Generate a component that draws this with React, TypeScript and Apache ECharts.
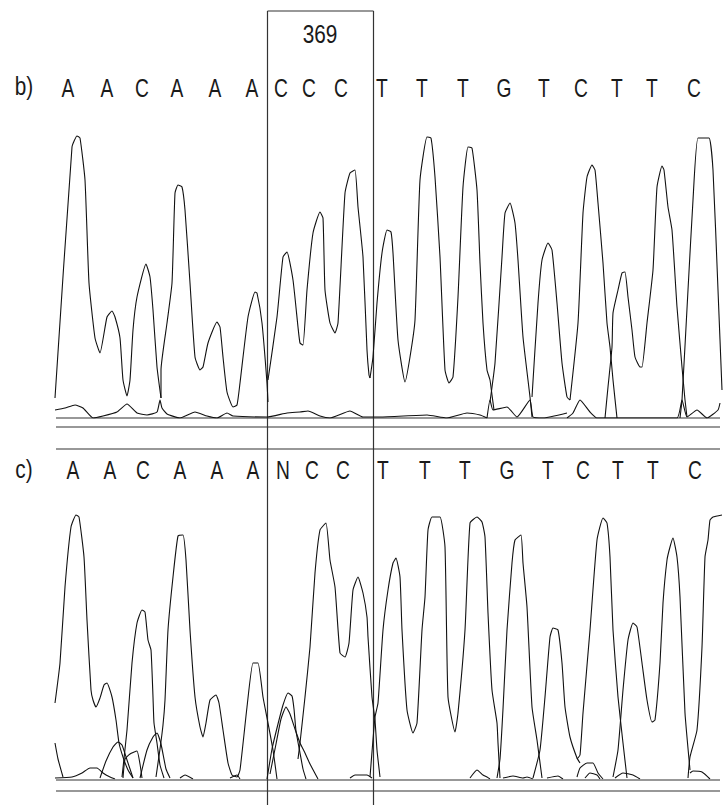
import React, { useEffect, useRef } from "react";
import * as echarts from "echarts";

// Base calls
const basesB = ["A","A","C","A","A","A","C","C","C","T","T","T","G","T","C","T","T","C"];
const basePosB = [68,107,142,177,215,252,281,309,341,382,422,463,504,544,581,617,652,694];
const basesC = ["A","A","C","A","A","A","N","C","C","T","T","T","G","T","C","T","T","C"];
const basePosC = [73,110,143,180,217,253,283,312,343,383,425,465,507,548,583,618,653,695];

// Panel b traces [scan, intensity]
const bTraceA1 = [[55,20],[72,271],[77,282],[80,280],[85,238],[89,135],[95,80],[100,65],[107,101],[112,107],[115,101],[120,80],[123,38],[127,22],[130,38],[133,88],[137,121],[146,154],[150,141],[153,108],[157,51],[161,20]];
const bTraceA2 = [[161,20],[161,48],[167,95],[172,135],[175,225],[178,233],[182,231],[185,208],[190,135],[195,61],[200,48],[203,51],[208,75],[217,96],[220,91],[223,61],[227,26],[233,11],[237,13],[240,35],[248,101],[255,126],[257,125],[262,95],[267,35],[268,16]];
const bTraceC1 = [[268,38],[277,101],[283,161],[287,166],[293,138],[298,91],[300,75],[303,73],[307,128],[313,185],[320,206],[323,200],[325,128],[330,95],[335,85],[338,95],[345,225],[350,245],[355,248],[358,211],[363,161],[367,68],[369,43],[370,40]];
const bTraceT1 = [[370,40],[373,61],[377,115],[382,165],[387,188],[391,186],[393,165],[398,78],[405,36],[410,61],[415,98],[420,238],[427,281],[431,280],[435,241],[440,161],[445,48],[449,35],[453,41],[458,121],[463,231],[468,271],[472,270],[477,228],[480,155],[483,95],[487,48],[490,38],[492,23],[494,8]];
const bTraceG1 = [[490,16],[495,55],[502,161],[505,205],[510,215],[515,195],[518,158],[523,81],[530,21],[532,1]];
const bTraceT2 = [[532,21],[538,115],[542,158],[548,175],[552,168],[557,115],[562,55],[567,21],[570,18]];
const bTraceC2 = [[570,18],[578,95],[583,205],[587,241],[592,253],[595,248],[598,215],[603,155],[607,95],[610,71],[613,38],[617,0]];
const bTraceT3 = [[605,0],[608,31],[612,71],[613,105],[618,128],[622,145],[625,146],[628,121],[632,88],[635,61],[640,51],[642,51],[647,95],[653,148],[657,231],[662,252],[664,248],[668,211],[672,188],[677,111],[682,51],[685,18],[687,1]];
const bTraceC3 = [[680,0],[682,18],[688,128],[693,218],[698,280],[709,280],[713,248],[718,128],[722,28]];
const bBase1 = [[55,8],[65,10],[75,13],[83,10],[93,0],[103,2],[117,6],[127,14],[137,5],[147,3],[157,6],[160,18],[162,10],[167,4],[180,0],[195,6],[207,2],[217,0],[227,5],[233,2],[267,1],[287,5],[300,6],[308,7],[320,2],[330,0],[350,7],[363,1],[380,1],[427,3],[447,0],[467,5],[480,3],[487,0]];
const bBase2 = [[487,0],[490,18],[493,8],[507,11],[517,1],[530,18],[533,1],[543,0],[567,5]];
const bBase3 = [[567,0],[573,5],[580,18],[590,6],[597,0],[677,0],[682,18],[687,1],[697,8],[707,0],[718,8],[720,15]];

// Panel c traces [scan, intensity]
const cTraceA0 = [[55,36],[58,20],[63,2]];
const cTraceA1 = [[55,76],[60,116],[65,192],[71,252],[76,264],[79,262],[84,222],[87,159],[91,89],[93,79],[96,72],[100,81],[104,94],[107,96],[112,82],[116,59],[119,36],[123,22],[128,9],[133,1]];
const cTraceC1 = [[122,2],[127,49],[132,116],[137,156],[142,169],[145,167],[148,139],[151,129],[153,82],[154,56],[157,36],[160,14],[164,1]];
const cTraceS1 = [[100,1],[106,18],[113,32],[118,37],[122,34],[127,19],[133,1]];
const cTraceS2 = [[123,1],[125,20],[130,25],[137,28],[140,15],[142,1]];
const cTraceS3 = [[140,1],[147,29],[153,42],[157,46],[161,35],[166,10],[170,1]];
const cTraceA2 = [[156,2],[160,30],[163,54],[165,79],[168,149],[173,202],[178,243],[183,244],[186,219],[190,149],[195,82],[200,52],[203,42],[206,56],[210,79],[216,84],[219,76],[223,49],[228,16],[232,4],[237,2],[240,9],[247,72],[253,116],[258,116],[263,82],[268,56],[273,29],[277,0]];
const cTraceN1 = [[267,0],[272,30],[278,55],[283,74],[288,86],[292,83],[294,70],[296,48],[300,26],[303,10],[306,0]];
const cTraceN2 = [[270,5],[276,35],[281,60],[286,72],[290,65],[295,50],[300,36],[305,26],[310,15],[318,0]];
const cTraceC2 = [[298,20],[300,36],[305,82],[310,132],[315,206],[320,249],[326,256],[330,219],[335,192],[340,126],[345,122],[349,136],[353,189],[358,202],[363,186],[367,162],[368,142],[372,82],[375,59],[377,29],[380,2]];
const cTraceT1 = [[370,2],[375,62],[378,76],[383,149],[388,189],[393,216],[396,221],[400,202],[402,149],[407,69],[413,46],[417,56],[422,149],[425,182],[428,249],[432,262],[440,262],[445,232],[448,82],[455,47],[458,66],[465,149],[470,256],[477,262],[482,257],[485,242],[488,166],[492,89],[497,56],[498,36],[500,1]];
const cTraceG1 = [[497,1],[500,20],[503,70],[507,149],[512,216],[515,239],[521,244],[523,216],[527,172],[532,72],[537,39],[542,1]];
const cTraceT2 = [[533,1],[540,29],[545,82],[550,142],[553,151],[558,149],[562,116],[565,72],[570,42],[577,21],[580,16]];
const cTraceC3 = [[577,20],[580,24],[583,66],[590,149],[597,239],[603,261],[607,256],[610,222],[613,149],[618,82],[623,36],[627,1]];
const cTraceT3 = [[613,2],[618,29],[623,89],[628,139],[633,156],[637,152],[642,116],[647,79],[652,57],[655,59],[660,116],[663,176],[667,219],[670,232],[673,241],[677,222],[680,182],[685,66],[690,9]];
const cTraceC4 = [[688,1],[690,22],[697,49],[702,132],[705,222],[708,239],[710,259],[713,262],[722,264]];
const cBase1 = [[55,1],[72,2],[82,6],[90,11],[97,11],[103,6],[110,2],[115,0]];
const cBase2 = [[180,1],[185,4],[193,0]];
const cBase3 = [[230,1],[237,4],[240,0]];
const cBase4 = [[350,1],[355,4],[367,4],[372,1]];
const cBase5 = [[470,1],[477,9],[483,4],[487,2],[490,0]];
const cBase6 = [[503,1],[513,3],[523,1],[527,2],[533,0]];
const cBase7 = [[547,1],[558,3],[563,0]];
const cBase8 = [[577,2],[580,11],[587,16],[593,16],[598,6],[603,0]];
const cBase9 = [[585,1],[590,6],[597,4],[600,0]];
const cBase10 = [[615,1],[623,6],[633,4],[640,0]];
const cBase11 = [[690,6],[693,8],[702,7],[710,0]];

const tracesB = [bTraceA1,bTraceA2,bTraceC1,bTraceT1,bTraceG1,bTraceT2,bTraceC2,bTraceT3,bTraceC3,bBase1,bBase2,bBase3];
const tracesC = [cTraceA0,cTraceA1,cTraceC1,cTraceS1,cTraceS2,cTraceS3,cTraceA2,cTraceN1,cTraceN2,cTraceC2,cTraceT1,cTraceG1,cTraceT2,cTraceC3,cTraceT3,cTraceC4,cBase1,cBase2,cBase3,cBase4,cBase5,cBase6,cBase7,cBase8,cBase9,cBase10,cBase11];

const baseLabelLevelB = 330;
const baseLabelLevelC = 309;
const markerLabel = "369";

const FONT = "'Liberation Sans', Arial, sans-serif";

export default function App() {
  const ref = useRef<HTMLDivElement>(null);
  useEffect(() => {
    if (!ref.current) return;
    const chart = echarts.init(ref.current, undefined, { renderer: "svg" });
    const lineSeries = (data: number[][], idx: number) => ({
      type: "line",
      xAxisIndex: idx,
      yAxisIndex: idx,
      data,
      showSymbol: false,
      symbol: "none",
      smooth: 0.15,
      lineStyle: { color: "#111", width: 1.1 },
      silent: true,
      z: 2,
    });
    const hline = (x1: number, x2: number, y: number) => ({
      type: "line",
      shape: { x1, y1: y, x2, y2: y },
      style: { stroke: "#333", lineWidth: 1.2 },
      silent: true,
    });
    const vline = (x: number, y1: number, y2: number) => ({
      type: "line",
      shape: { x1: x, y1, x2: x, y2 },
      style: { stroke: "#333", lineWidth: 1.2 },
      silent: true,
    });
    const txt = (text: string, x: number, y: number, sx = 0.74) => ({
      type: "text",
      x,
      y,
      scaleX: sx,
      silent: true,
      style: {
        text,
        fontSize: 26,
        fontFamily: FONT,
        fill: "#1a1a1a",
        align: "center",
        verticalAlign: "middle",
      },
    });
    chart.setOption({
      animation: false,
      backgroundColor: "#fff",
      grid: [
        { left: 55, width: 667, top: 78, height: 340 },
        { left: 55, width: 667, top: 439, height: 340 },
      ],
      xAxis: [
        { type: "value", gridIndex: 0, min: 55, max: 722, show: false },
        { type: "value", gridIndex: 1, min: 55, max: 722, show: false },
      ],
      yAxis: [
        { type: "value", gridIndex: 0, min: 0, max: 340, show: false },
        { type: "value", gridIndex: 1, min: 0, max: 340, show: false },
      ],
      series: [
        ...tracesB.map((t) => lineSeries(t, 0)),
        ...tracesC.map((t) => lineSeries(t, 1)),
      ],
    });
    const labelsB = basesB.map((b, i) => {
      const p = chart.convertToPixel({ gridIndex: 0 }, [basePosB[i], baseLabelLevelB]) as number[];
      return txt(b, p[0], p[1]);
    });
    const labelsC = basesC.map((b, i) => {
      const p = chart.convertToPixel({ gridIndex: 1 }, [basePosC[i], baseLabelLevelC]) as number[];
      return txt(b, p[0], p[1]);
    });
    chart.setOption({
      graphic: [
        hline(56, 720, 418),
        hline(56, 720, 427),
        hline(56, 720, 449),
        hline(56, 720, 780),
        hline(56, 720, 791),
        vline(267.5, 11, 805),
        vline(373.5, 11, 805),
        hline(267.5, 373.5, 11),
        txt(markerLabel, 320, 34, 0.8),
        txt("b)", 24, 86, 0.8),
        txt("c)", 24, 469, 0.8),
        ...labelsB,
        ...labelsC,
      ],
    });
    return () => chart.dispose();
  }, []);
  return (
    <div
      ref={ref}
      style={{ position: "fixed", left: 0, top: 0, width: 723, height: 805, background: "#fff" }}
    />
  );
}
